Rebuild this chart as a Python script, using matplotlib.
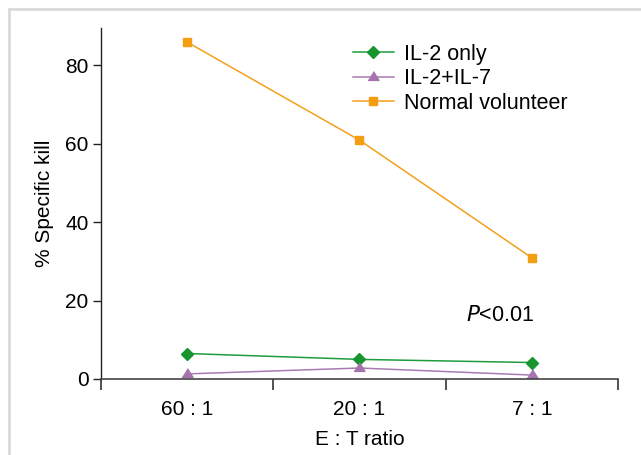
import matplotlib
matplotlib.use("Agg")
import matplotlib.pyplot as plt
from matplotlib.patches import Rectangle

categories = ["60 : 1", "20 : 1", "7 : 1"]
il2_only = [6.5, 5.0, 4.2]
il2_il7 = [1.3, 2.8, 1.0]
normal = [85.9, 60.9, 30.9]
y_ticks = [0, 20, 40, 60, 80]

plt.rcParams['font.family'] = ['Liberation Sans', 'DejaVu Sans']
FS = 15
fig = plt.figure(figsize=(6.41, 4.55), dpi=100)
W, H = 641, 455
fig.patches.append(Rectangle((9 / W, -0.1), 1.2, (H - 9) / H + 0.1, transform=fig.transFigure,
                             fill=False, edgecolor='#d9d9d9', linewidth=2))

ax = fig.add_axes([101 / W, (H - 379) / H, (618 - 101) / W, (379 - 28) / H])
x = [0.5, 1.5, 2.5]
tri = [(-1, -0.53), (1, -0.53), (0, 1.06)]
ax.plot(x, il2_only, color='#1e9c3c', marker='D', markersize=6.2, markerfacecolor='#17952f',
        markeredgecolor='#17952f', linewidth=1.1, label='IL-2 only')
ax.plot(x, il2_il7, color='#a97ab3', marker=tri, markersize=8.4, markerfacecolor='#a574ae',
        markeredgecolor='#a574ae', linewidth=1.1, label='IL-2+IL-7')
ax.plot(x, normal, color='#f3a01c', marker='s', markersize=6.3, markerfacecolor='#f29d12',
        markeredgecolor='#f29d12', linewidth=1.1, label='Normal volunteer')

ax.set_xlim(0, 3)
ax.set_ylim(0, 89.5)
ax.set_xticks([0, 1, 2, 3])
ax.set_xticklabels([])
ax.set_xticks(x, minor=True)
ax.set_xticklabels(categories, minor=True)
ax.tick_params(axis='x', which='minor', length=0, pad=15, labelsize=FS)
ax.tick_params(axis='x', which='major', length=8, width=1.2, color='#333333')
ax.set_yticks(y_ticks)
ax.tick_params(axis='y', length=6, width=1, labelsize=FS, pad=3, color='#222222')
for s in ['top', 'right']:
    ax.spines[s].set_visible(False)
ax.spines['left'].set_linewidth(1)
ax.spines['left'].set_color('#222222')
ax.spines['bottom'].set_linewidth(1.2)
ax.spines['bottom'].set_color('#444444')

ax.set_ylabel('% Specific kill', fontsize=FS, labelpad=8)
ax.set_xlabel('E : T ratio', fontsize=FS, labelpad=8)
ax.text(2.118, 16.3, r'$\it{P}$<0.01', fontsize=FS + 0.5, va='center', ha='left')

leg = ax.legend(loc='upper left', bbox_to_anchor=((353 - 101) / 517, (379 - 44) / 351),
                frameon=False, fontsize=FS + 0.5,
                handlelength=1.9, handletextpad=0.45, labelspacing=0.16, borderpad=0,
                borderaxespad=0)

fig.savefig('out.png', dpi=100)
